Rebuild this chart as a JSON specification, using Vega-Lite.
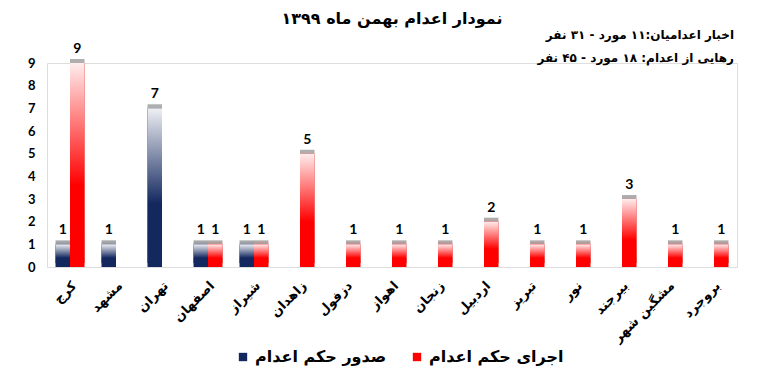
{
  "$schema": "https://vega.github.io/schema/vega-lite/v6.json",
  "width": 690,
  "height": 204,
  "autosize": {"type": "none"},
  "padding": {"left": 47, "top": 63, "right": 31, "bottom": 114},
  "background": "white",
  "config": {
    "axisY": {
      "title": null,
      "tickCount": 10,
      "labelFont": "Lato",
      "labelFontSize": 13,
      "labelFontWeight": "bold",
      "labelColor": "#000",
      "labelPadding": 12,
      "grid": false,
      "domain": false,
      "ticks": false
    }
  },
  "title": {
    "text": "نمودار اعدام بهمن ماه ۱۳۹۹",
    "font": "DejaVu Sans",
    "fontSize": 16,
    "fontWeight": "bold",
    "color": "#000",
    "anchor": "middle",
    "frame": "group",
    "offset": 2
  },
  "data": {
    "values": [
      {"city": "کرج", "series": "صدور حکم اعدام", "value": 1},
      {"city": "کرج", "series": "اجرای حکم اعدام", "value": 9},
      {"city": "مشهد", "series": "صدور حکم اعدام", "value": 1},
      {"city": "تهران", "series": "صدور حکم اعدام", "value": 7},
      {"city": "اصفهان", "series": "صدور حکم اعدام", "value": 1},
      {"city": "اصفهان", "series": "اجرای حکم اعدام", "value": 1},
      {"city": "شیراز", "series": "صدور حکم اعدام", "value": 1},
      {"city": "شیراز", "series": "اجرای حکم اعدام", "value": 1},
      {"city": "زاهدان", "series": "اجرای حکم اعدام", "value": 5},
      {"city": "دزفول", "series": "اجرای حکم اعدام", "value": 1},
      {"city": "اهواز", "series": "اجرای حکم اعدام", "value": 1},
      {"city": "زنجان", "series": "اجرای حکم اعدام", "value": 1},
      {"city": "اردبیل", "series": "اجرای حکم اعدام", "value": 2},
      {"city": "تبریز", "series": "اجرای حکم اعدام", "value": 1},
      {"city": "نور", "series": "اجرای حکم اعدام", "value": 1},
      {"city": "بیرجند", "series": "اجرای حکم اعدام", "value": 3},
      {"city": "مشگین شهر", "series": "اجرای حکم اعدام", "value": 1},
      {"city": "بروجرد", "series": "اجرای حکم اعدام", "value": 1}
    ]
  },
  "layer": [
    {
      "transform": [{"filter": "datum.series === 'اجرای حکم اعدام'"}],
      "mark": {
        "type": "bar",
        "xOffset": 4,
        "yOffset": -4,
        "color": {
          "gradient": "linear", "x1": 0, "y1": 0, "x2": 0, "y2": 1,
          "stops": [
            {"offset": 0, "color": "#b0b0b0"},
            {"offset": 0.35, "color": "#c07070"},
            {"offset": 1, "color": "#a00000"}
          ]
        }
      },
      "encoding": {
        "x": {
          "field": "city",
          "type": "nominal",
          "scale": {
            "domain": ["کرج", "مشهد", "تهران", "اصفهان", "شیراز", "زاهدان", "دزفول", "اهواز", "زنجان", "اردبیل", "تبریز", "نور", "بیرجند", "مشگین شهر", "بروجرد"],
            "paddingInner": 0.37,
            "paddingOuter": 0.185
          },
          "axis": {
            "title": null,
            "labelAngle": -45,
            "labelFont": "DejaVu Sans",
            "labelFontSize": 13,
            "labelFontWeight": "bold",
            "labelColor": "#000",
            "labelPadding": 12,
            "domain": false,
            "ticks": false
          }
        },
        "y": {
          "field": "value",
          "type": "quantitative",
          "scale": {"domain": [0, 9], "nice": false},
          "axis": {"values": [0, 1, 2, 3, 4, 5, 6, 7, 8, 9]}
        },
        "xOffset": {"field": "series", "type": "nominal", "scale": {"domain": ["صدور حکم اعدام", "اجرای حکم اعدام"], "paddingInner": 0}}
      }
    },
    {
      "transform": [{"filter": "datum.series === 'صدور حکم اعدام'"}],
      "mark": {
        "type": "bar",
        "xOffset": 4,
        "yOffset": -4,
        "color": {
          "gradient": "linear", "x1": 0, "y1": 0, "x2": 0, "y2": 1,
          "stops": [
            {"offset": 0, "color": "#b0b0b0"},
            {"offset": 0.35, "color": "#707a90"},
            {"offset": 1, "color": "#0a1838"}
          ]
        }
      },
      "encoding": {
        "x": {"field": "city", "type": "nominal"},
        "y": {"field": "value", "type": "quantitative", "axis": {"values": [0, 1, 2, 3, 4, 5, 6, 7, 8, 9]}},
        "xOffset": {"field": "series", "type": "nominal"}
      }
    },
    {
      "mark": {"type": "bar"},
      "encoding": {
        "x": {"field": "city", "type": "nominal"},
        "y": {"field": "value", "type": "quantitative", "axis": {"values": [0, 1, 2, 3, 4, 5, 6, 7, 8, 9]}},
        "xOffset": {"field": "series", "type": "nominal"},
        "color": {
          "field": "series",
          "type": "nominal",
          "scale": {"domain": ["صدور حکم اعدام", "اجرای حکم اعدام"], "range": ["#13285f", "#ff0000"]},
          "legend": {
            "title": null,
            "orient": "none",
            "legendX": 188,
            "legendY": 286,
            "direction": "horizontal",
            "symbolType": "square",
            "symbolSize": 70,
            "symbolStrokeWidth": 0,
            "labelFont": "DejaVu Sans",
            "labelFontSize": 16,
            "labelFontWeight": "bold",
            "labelColor": "#000",
            "columnPadding": 22,
            "labelLimit": 300
          }
        }
      }
    },
    {
      "mark": {
        "type": "bar",
        "color": {
          "gradient": "linear", "x1": 0, "y1": 0, "x2": 0, "y2": 1,
          "stops": [
            {"offset": 0, "color": "rgba(255,255,255,0.93)"},
            {"offset": 0.6, "color": "rgba(255,255,255,0)"},
            {"offset": 1, "color": "rgba(255,255,255,0)"}
          ]
        }
      },
      "encoding": {
        "x": {"field": "city", "type": "nominal"},
        "y": {"field": "value", "type": "quantitative", "axis": {"values": [0, 1, 2, 3, 4, 5, 6, 7, 8, 9]}},
        "xOffset": {"field": "series", "type": "nominal"}
      }
    },
    {
      "mark": {
        "type": "text",
        "baseline": "bottom",
        "dy": -7,
        "font": "Lato",
        "fontSize": 14,
        "fontWeight": "bold",
        "color": "#000"
      },
      "encoding": {
        "x": {"field": "city", "type": "nominal"},
        "y": {"field": "value", "type": "quantitative", "axis": {"values": [0, 1, 2, 3, 4, 5, 6, 7, 8, 9]}},
        "xOffset": {"field": "series", "type": "nominal"},
        "text": {"field": "value", "type": "quantitative"}
      }
    },
    {
      "data": {"values": [{"note": "اخبار اعدامیان:۱۱ مورد - ۳۱ نفر"}]},
      "mark": {"type": "text", "align": "right", "baseline": "middle", "dx": 20, "font": "DejaVu Sans", "fontSize": 12, "fontWeight": "bold", "color": "#000"},
      "encoding": {
        "x": {"datum": "بروجرد", "type": "nominal"},
        "y": {"datum": 10.23, "type": "quantitative", "axis": {"values": [0, 1, 2, 3, 4, 5, 6, 7, 8, 9]}},
        "text": {"field": "note", "type": "nominal"}
      }
    },
    {
      "data": {"values": [{"note": "رهایی از اعدام: ۱۸ مورد - ۴۵ نفر"}]},
      "mark": {"type": "text", "align": "right", "baseline": "middle", "dx": 20, "font": "DejaVu Sans", "fontSize": 12, "fontWeight": "bold", "color": "#000"},
      "encoding": {
        "x": {"datum": "بروجرد", "type": "nominal"},
        "y": {"datum": 9.22, "type": "quantitative", "axis": {"values": [0, 1, 2, 3, 4, 5, 6, 7, 8, 9]}},
        "text": {"field": "note", "type": "nominal"}
      }
    }
  ]
}
